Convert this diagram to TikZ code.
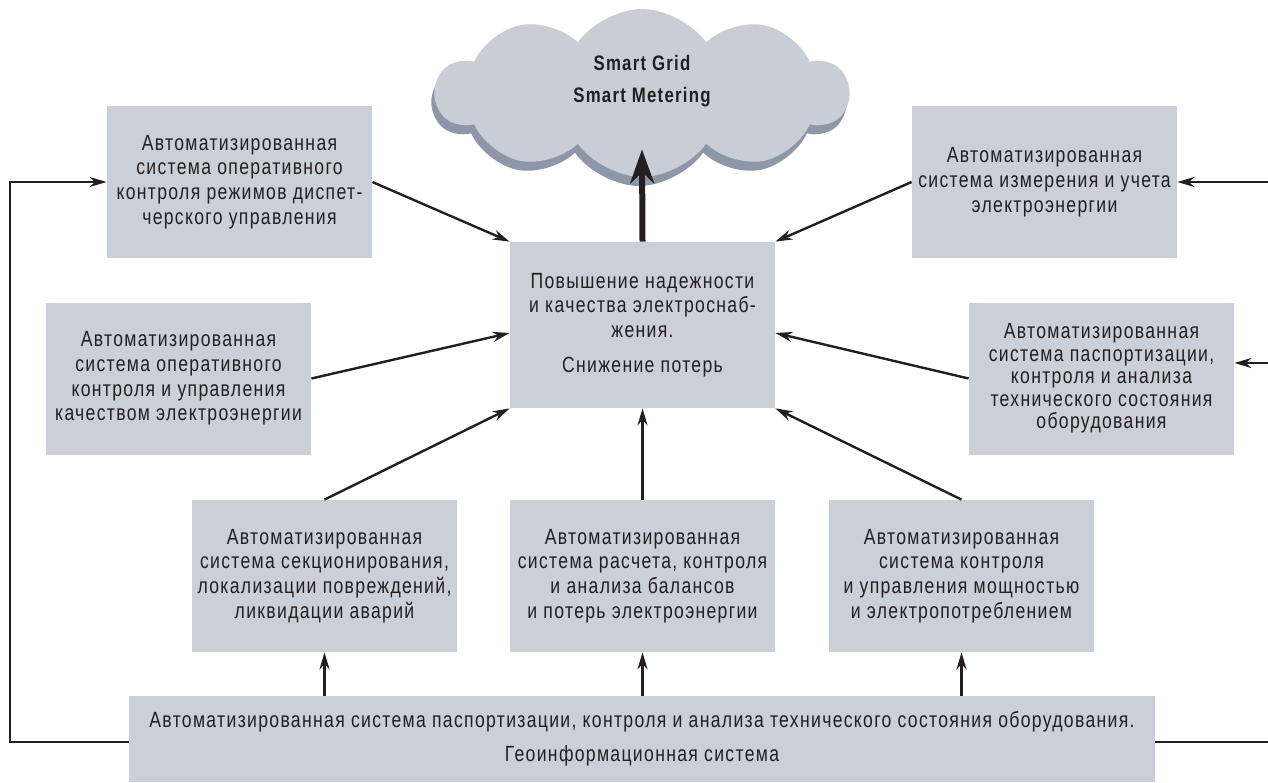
\documentclass[tikz,border=0pt]{standalone}
\usepackage{fontspec}
\setmainfont{Liberation Sans}[FakeStretch=0.8, LetterSpace=6]
\usepackage{tikz}
\usetikzlibrary{shapes.symbols,arrows.meta}
\definecolor{boxgray}{HTML}{CBCFD8}
\definecolor{cloudgray}{HTML}{C9CDD6}
\definecolor{shadowgray}{HTML}{8E97A7}
\definecolor{inkdark}{HTML}{231F20}
\tikzset{
  block/.style = {fill=boxgray, text=inkdark, align=center, inner sep=0pt,
                  minimum width=132.5pt, minimum height=76pt,
                  font=\fontsize{11}{12.4}\selectfont},
  arr/.style = {-{Stealth[length=8.5pt,width=5pt]}, line width=1.2pt, draw=inkdark},
  bigarr/.style = {-{Stealth[length=17pt,width=12pt]}, line width=3pt, draw=inkdark},
  cloudy/.style = {cloud, cloud puffs=10, cloud puff arc=110, aspect=2.4,
                   minimum width=206pt, minimum height=84pt, inner sep=0pt}
}

\begin{document}
\begin{tikzpicture}[x=0.5pt,y=-0.5pt]
\useasboundingbox (0,0) rectangle (1268,782);
% cloud on top
\node[cloudy, fill=shadowgray] (shadow) at (639,102) {};
\node[cloudy, fill=cloudgray] (cloud) at (642,93) {};
\node[text=inkdark, align=center, font=\bfseries\fontsize{10.5}{16}\selectfont] (sg) at (642,81) {Smart Grid\\Smart Metering};
% boxes
\node[block] (disp) at (239.5,182) {Автоматизированная\\система оперативного\\контроля режимов диспет-\\черского управления};
\node[block] (meter) at (1044.5,182) {Автоматизированная\\система измерения и учета\\электроэнергии};
\node[block, minimum height=83pt] (hub) at (642.5,325) {Повышение надежности\\и качества электроснаб-\\жения.\\[5pt]Снижение потерь};
\node[block] (qual) at (178.5,378.5) {Автоматизированная\\система оперативного\\контроля и управления\\качеством электроэнергии};
\node[block, font=\fontsize{11}{11.2}\selectfont] (pasp) at (1101.5,378.5) {Автоматизированная\\система паспортизации,\\контроля и анализа\\технического состояния\\оборудования};
\node[block] (sect) at (324.5,576) {Автоматизированная\\система секционирования,\\локализации повреждений,\\ликвидации аварий};
\node[block] (bal) at (642.5,576) {Автоматизированная\\система расчета, контроля\\и анализа балансов\\и потерь электроэнергии};
\node[block] (pow) at (961.5,576) {Автоматизированная\\система контроля\\и управления мощностью\\и электропотреблением};
\node[block, minimum width=513pt, minimum height=43pt] (geo) at (642,739) {Автоматизированная система паспортизации, контроля и анализа технического состояния оборудования.\\[4.5pt]Геоинформационная система};
\coordinate (lft) at (10,0);
\coordinate (rgt) at (1275,0);
% arrows to the centre
\draw[bigarr] (hub.north) -- ([yshift=14pt]cloud.south);
\draw[arr] (disp.east) -- (hub.north west);
\draw[arr] (meter.west) -- (hub.north east);
\draw[arr] (qual.east) -- ([yshift=-4pt]hub.west);
\draw[arr] (pasp.west) -- ([yshift=-4pt]hub.east);
\draw[arr] (sect.north) -- (hub.south west);
\draw[arr] (bal.north) -- (hub.south);
\draw[arr] (pow.north) -- (hub.south east);
% from the base system
\draw[arr] (geo.north -| sect.south) -- (sect.south);
\draw[arr] (geo.north -| bal.south) -- (bal.south);
\draw[arr] (geo.north -| pow.south) -- (pow.south);
\draw[arr] ([yshift=-1.5pt]geo.west) -- ([yshift=-1.5pt]geo.west -| lft) |- (disp.west);
\draw[arr] ([yshift=-1.5pt]geo.east) -- ([yshift=-1.5pt]geo.east -| rgt) |- (meter.east);
\draw[arr] ([yshift=7.75pt]pasp.east -| rgt) -- ([yshift=7.75pt]pasp.east);
\end{tikzpicture}
\end{document}
